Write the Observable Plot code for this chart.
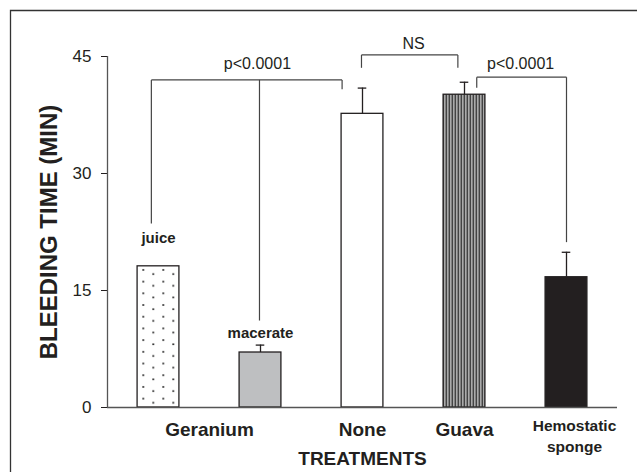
<!DOCTYPE html>
<html>
<head>
<meta charset="utf-8">
<script src="https://cdn.jsdelivr.net/npm/d3@7"></script>
<script src="https://cdn.jsdelivr.net/npm/@observablehq/plot@0.6"></script>
<style>
  html, body { margin: 0; padding: 0; background: #fff; }
  #wrap { position: relative; width: 637px; height: 472px; overflow: hidden; }
  svg { overflow: visible; display: block; }
</style>
</head>
<body>
<div id="wrap"></div>
<script>
// ---- data ----
const groups = ["juice", "macerate", "None", "Guava", "Hemostatic sponge"];
const means  = [18.1, 7.05, 37.65, 40.1, 16.7];
const errs   = [null, 0.95, 3.3, 1.6, 3.2];
const yTicks = [0, 15, 30, 45];
const categoryLabels = [
  {text: "Geranium", of: ["juice", "macerate"]},
  {text: "None", of: ["None"]},
  {text: "Guava", of: ["Guava"]},
  {text: "Hemostatic\nsponge", of: ["Hemostatic sponge"]}
];
const barNotes = [
  {text: "juice", group: "juice", at: 21.7},
  {text: "macerate", group: "macerate", at: 9.5}
];
// significance brackets: top height, legs [group position, leg end value], label
const brackets = [
  {label: "p<0.0001", top: 42.0, legs: [[-0.07, 23.6], [0.99, 11.15], [1.8, 40.8]], labelAt: [0.97, 44.1]},
  {label: "NS", top: 45.2, legs: [[1.99, 43.55], [2.935, 43.55]], labelAt: [2.5, 46.6]},
  {label: "p<0.0001", top: 42.35, legs: [[3.12, 41.0], [4.0, 21.2]], labelAt: [3.55, 44.1]}
];

// ---- styling ----
const barFills = ["url(#dots)", "#bebfc1", "#ffffff", "url(#stripes)", "#231f20"];
const FONT = "Liberation Sans, Arial, Helvetica, sans-serif";
const INK = "#231f20";

const bars = groups.map((g, i) => ({g, i, mean: means[i], err: errs[i]}));
const errBars = bars.filter(d => d.err != null);
const pos = g => groups.indexOf(g);
const catRows = categoryLabels.map(c => ({text: c.text, x: d3.mean(c.of, pos)}));
const noteRows = barNotes.map(n => ({text: n.text, x: pos(n.group), y: n.at}));

const links = [];
for (const b of brackets) {
  const xs = b.legs.map(l => l[0]);
  links.push({x1: d3.min(xs), x2: d3.max(xs), y1: b.top, y2: b.top});
  for (const [lx, ly] of b.legs) links.push({x1: lx, x2: lx, y1: b.top, y2: ly});
}
const bLabels = brackets.map(b => ({text: b.label, x: b.labelAt[0], y: b.labelAt[1]}));

const HW = 0.205, CAP = 0.042;

const chart = Plot.plot({
  width: 637,
  height: 472,
  marginLeft: 107,
  marginRight: 20,
  marginTop: 56,
  marginBottom: 65,
  style: {fontFamily: FONT, fontSize: "17px", color: INK, background: "transparent"},
  x: {domain: [-0.5, 4.5], axis: null},
  y: {domain: [0, 45], ticks: yTicks, tickSize: 6, tickPadding: 10, label: null, tickFormat: d => String(d)},
  color: {type: "identity"},
  marks: [
    Plot.rectY(bars, {x1: d => d.i - HW, x2: d => d.i + HW, y1: 0, y2: "mean",
      fill: d => barFills[d.i], stroke: INK, strokeWidth: 1.3}),
    Plot.ruleX(errBars, {x: "i", y1: "mean", y2: d => d.mean + d.err, stroke: INK, strokeWidth: 1.3}),
    Plot.ruleY(errBars, {y: d => d.mean + d.err, x1: d => d.i - CAP, x2: d => d.i + CAP, stroke: INK, strokeWidth: 1.3}),
    Plot.ruleX([-0.5], {y1: 0, y2: 45, stroke: "#555", strokeWidth: 1.3}),
    Plot.ruleY([0], {x1: -0.5, x2: 4.5, stroke: "#555", strokeWidth: 1.6}),
    Plot.link(links, {x1: "x1", x2: "x2", y1: "y1", y2: "y2", stroke: "#444", strokeWidth: 1.2}),
    Plot.text(bLabels, {x: "x", y: "y", text: "text", fontSize: 16, fill: INK}),
    Plot.text(noteRows, {x: "x", y: "y", text: "text", fontSize: 15, fontWeight: "bold", fill: INK}),
    Plot.text(catRows.filter(d => !d.text.includes("\n")), {x: "x", y: 0, dy: 22, text: "text",
      fontSize: 19, fontWeight: "bold", fill: INK}),
    Plot.text(catRows.filter(d => d.text.includes("\n")), {x: "x", y: 0, dx: 8, dy: 27, text: "text",
      lineAnchor: "middle", lineHeight: 1.4, fontSize: 15.5, fontWeight: "bold", fill: INK}),
    Plot.text(["TREATMENTS"], {frameAnchor: "bottom", dy: 51, lineAnchor: "middle", text: d => d,
      fontSize: 19, fontWeight: "bold", fill: INK}),
    Plot.text(["BLEEDING TIME (MIN)"], {frameAnchor: "left", dx: -58, rotate: -90, textAnchor: "middle",
      lineAnchor: "middle", text: d => d, fontSize: 24, fontWeight: "bold", fill: INK})
  ]
});

const ns = "http://www.w3.org/2000/svg";
const defs = document.createElementNS(ns, "defs");
defs.innerHTML = `
  <pattern id="dots" patternUnits="userSpaceOnUse" x="140.3" y="267" width="20" height="11.7">
    <rect width="20" height="11.7" fill="#fff"/>
    <circle cx="3" cy="3" r="1" fill="#222"/>
    <circle cx="13" cy="7" r="1" fill="#222"/>
  </pattern>
  <pattern id="stripes" patternUnits="userSpaceOnUse" x="442.5" y="0" width="3" height="10">
    <rect width="3" height="10" fill="#e8e8e8"/>
    <rect x="0" width="1.6" height="10" fill="#1a1a1a"/>
  </pattern>`;
chart.insertBefore(defs, chart.firstChild);
// outer figure border (left and top edges visible)
const border = document.createElementNS(ns, "path");
border.setAttribute("d", "M10.5,472V10.5H637");
border.setAttribute("fill", "none");
border.setAttribute("stroke", "#333");
border.setAttribute("stroke-width", "1.3");
chart.appendChild(border);
document.getElementById("wrap").appendChild(chart);
</script>
</body>
</html>
